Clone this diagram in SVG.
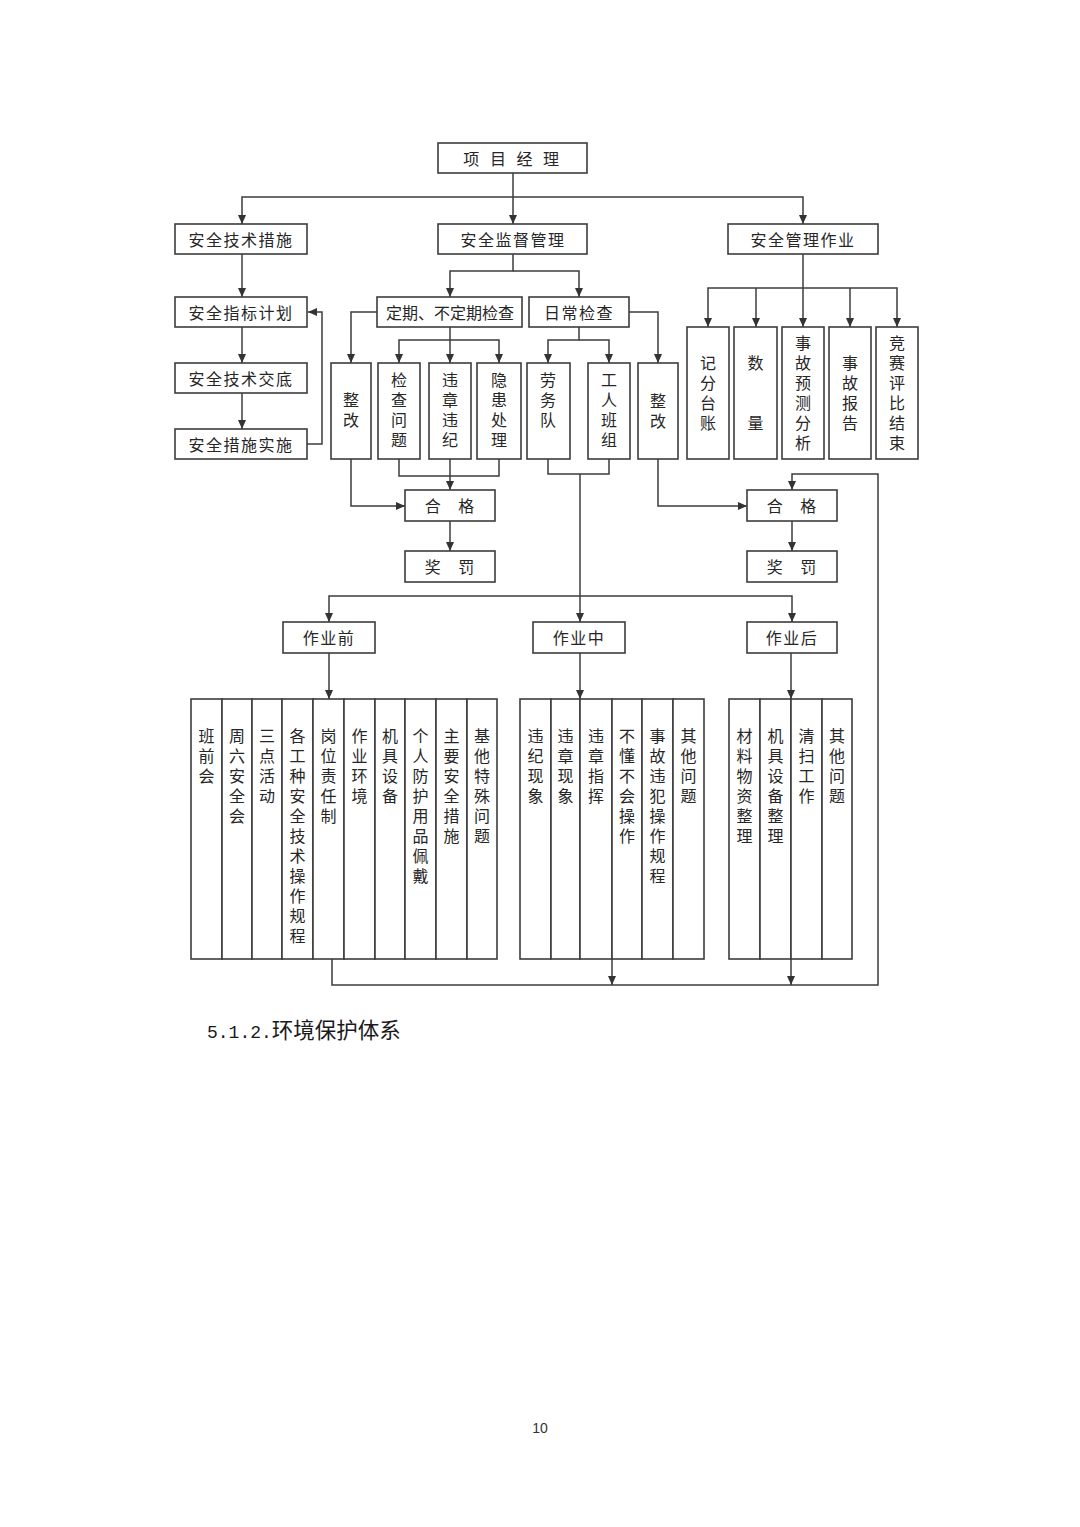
<svg xmlns="http://www.w3.org/2000/svg" width="1080" height="1527" viewBox="0 0 1080 1527">
<style>
.b{fill:#fff;stroke:#3c3c3c;stroke-width:1.6}
.t{font-family:"Noto Sans CJK SC",sans-serif;font-size:16px;fill:#262626;text-anchor:middle;dominant-baseline:central;letter-spacing:1.5px}
.v{font-family:"Noto Sans CJK SC",sans-serif;font-size:16px;fill:#262626;writing-mode:vertical-rl;letter-spacing:4px}
.c{fill:none;stroke:#3c3c3c;stroke-width:1.5}
.a{marker-end:url(#ah)}
</style>
<defs>
<marker id="ah" markerWidth="10" markerHeight="10" refX="9" refY="5" orient="auto" markerUnits="userSpaceOnUse"><path d="M0,1 L9,5 L0,9 z" fill="#333"/></marker>
</defs>
<rect width="1080" height="1527" fill="#fff"/>

<g id="connectors">
<path class="c a" d="M513,173 V224"/>
<path class="c a" d="M513,197 H242 V224"/>
<path class="c a" d="M513,197 H803 V224"/>
<path class="c a" d="M242,254 V297"/>
<path class="c a" d="M242,327 V363"/>
<path class="c a" d="M242,393 V429"/>
<path class="c a" d="M307,444 H322 V312 H308"/>
<path class="c a" d="M513,254 V271 H450 V297"/>
<path class="c a" d="M513,271 H579 V297"/>
<path class="c a" d="M377,312 H351 V363"/>
<path class="c a" d="M450,327 V363"/>
<path class="c a" d="M450,340 H399 V363"/>
<path class="c a" d="M450,340 H499 V363"/>
<path class="c a" d="M579,327 V340 H548 V363"/>
<path class="c a" d="M579,340 H609 V363"/>
<path class="c a" d="M629,312 H658 V363"/>
<path class="c a" d="M803,253 V327"/>
<path class="c a" d="M803,288 H708 V327"/>
<path class="c a" d="M756,288 V327"/>
<path class="c a" d="M850,288 V327"/>
<path class="c a" d="M803,288 H897 V327"/>
<path class="c a" d="M351,459 V506 H405"/>
<path class="c" d="M399,459 V476 H499 V459"/>
<path class="c a" d="M450,459 V490"/>
<path class="c a" d="M450,521 V551"/>
<path class="c" d="M548,459 V474 H609 V459"/>
<path class="c a" d="M580,474 V622"/>
<path class="c a" d="M580,596 H329 V622"/>
<path class="c a" d="M580,596 H792 V622"/>
<path class="c a" d="M658,459 V506 H747"/>
<path class="c a" d="M792,521 V551"/>
<path class="c a" d="M332,959 V985 H878 V474 H792 V490"/>
<path class="c a" d="M612,959 V985"/>
<path class="c a" d="M791,959 V985"/>
<path class="c a" d="M329,653 V699"/>
<path class="c a" d="M580,653 V699"/>
<path class="c a" d="M791,653 V699"/>
</g>

<g id="n-xiangmujingli"><rect class="b" x="438" y="143" width="149" height="30"/><text class="t" x="513" y="158" style="letter-spacing:3.5px">项 目 经 理</text></g>
<g id="n-anquanjishucuoshi"><rect class="b" x="175" y="224" width="132" height="30"/><text class="t" x="241" y="239">安全技术措施</text></g>
<g id="n-anquanjianduguanli"><rect class="b" x="438" y="224" width="149" height="30"/><text class="t" x="513" y="239">安全监督管理</text></g>
<g id="n-anquanguanlizuoye"><rect class="b" x="728" y="224" width="150" height="30"/><text class="t" x="803" y="239">安全管理作业</text></g>
<g id="n-anquanzhibiaojihua"><rect class="b" x="175" y="297" width="132" height="30"/><text class="t" x="241" y="312">安全指标计划</text></g>
<g id="n-anquanjishujiaodi"><rect class="b" x="175" y="363" width="132" height="30"/><text class="t" x="241" y="378">安全技术交底</text></g>
<g id="n-anquancuoshishishi"><rect class="b" x="175" y="429" width="132" height="30"/><text class="t" x="241" y="444">安全措施实施</text></g>
<g id="n-dingqijiancha"><rect class="b" x="377" y="297" width="145" height="30"/><text class="t" x="450" y="312" style="letter-spacing:0">定期、不定期检查</text></g>
<g id="n-richangjiancha"><rect class="b" x="529" y="297" width="100" height="30"/><text class="t" x="579" y="312">日常检查</text></g>

<g id="n-zhenggai1"><rect class="b" x="331" y="363" width="40" height="96"/><text class="v" x="351" y="392">整改</text></g>
<g id="n-jianchawenti"><rect class="b" x="378" y="363" width="42" height="96"/><text class="v" x="399" y="372">检查问题</text></g>
<g id="n-weizhangweiji"><rect class="b" x="429" y="363" width="42" height="96"/><text class="v" x="450" y="372">违章违纪</text></g>
<g id="n-yinhuanchuli"><rect class="b" x="477" y="363" width="44" height="96"/><text class="v" x="499" y="372">隐患处理</text></g>
<g id="n-laowudui"><rect class="b" x="527" y="363" width="43" height="96"/><text class="v" x="548" y="372">劳务队</text></g>
<g id="n-gongrenbanzu"><rect class="b" x="588" y="363" width="42" height="96"/><text class="v" x="609" y="372">工人班组</text></g>
<g id="n-zhenggai2"><rect class="b" x="638" y="363" width="40" height="96"/><text class="v" x="658" y="393">整改</text></g>
<g id="n-jifentaizhang"><rect class="b" x="687" y="327" width="42" height="132"/><text class="v" x="708" y="355">记分台账</text></g>
<g id="n-shuliang"><rect class="b" x="734" y="327" width="43" height="132"/><text class="v" x="755.5" y="355">数</text><text class="v" x="755.5" y="415">量</text></g>
<g id="n-shiguyuce"><rect class="b" x="782" y="327" width="42" height="132"/><text class="v" x="803" y="335">事故预测分析</text></g>
<g id="n-shigubaogao"><rect class="b" x="829" y="327" width="42" height="132"/><text class="v" x="850" y="355">事故报告</text></g>
<g id="n-jingsai"><rect class="b" x="876" y="327" width="42" height="132"/><text class="v" x="897" y="335">竞赛评比结束</text></g>

<g id="n-hege1"><rect class="b" x="405" y="490" width="90" height="31"/><text class="t" x="453" y="505" style="letter-spacing:7px">合 格</text></g>
<g id="n-jiangfa1"><rect class="b" x="405" y="551" width="90" height="31"/><text class="t" x="453" y="566" style="letter-spacing:7px">奖 罚</text></g>
<g id="n-hege2"><rect class="b" x="747" y="490" width="90" height="31"/><text class="t" x="795" y="505" style="letter-spacing:7px">合 格</text></g>
<g id="n-jiangfa2"><rect class="b" x="747" y="551" width="90" height="31"/><text class="t" x="795" y="566" style="letter-spacing:7px">奖 罚</text></g>
<g id="n-zuoyeqian"><rect class="b" x="283" y="622" width="92" height="31"/><text class="t" x="329" y="637">作业前</text></g>
<g id="n-zuoyezhong"><rect class="b" x="533" y="622" width="92" height="31"/><text class="t" x="579" y="637">作业中</text></g>
<g id="n-zuoyehou"><rect class="b" x="747" y="622" width="90" height="31"/><text class="t" x="792" y="637">作业后</text></g>

<g id="c-banqianhui"><rect class="b" x="191" y="699" width="31" height="260"/><text class="v" x="206.5" y="728">班前会</text></g>
<g id="c-zhouliu"><rect class="b" x="222" y="699" width="30" height="260"/><text class="v" x="237" y="728">周六安全会</text></g>
<g id="c-sandian"><rect class="b" x="252" y="699" width="30" height="260"/><text class="v" x="267" y="728">三点活动</text></g>
<g id="c-gegongzhong"><rect class="b" x="282" y="699" width="31" height="260"/><text class="v" x="297.5" y="728">各工种安全技术操作规程</text></g>
<g id="c-gangwei"><rect class="b" x="313" y="699" width="31" height="260"/><text class="v" x="328.5" y="728">岗位责任制</text></g>
<g id="c-zuoyehuanjing"><rect class="b" x="344" y="699" width="31" height="260"/><text class="v" x="359.5" y="728">作业环境</text></g>
<g id="c-jijushebei"><rect class="b" x="375" y="699" width="30" height="260"/><text class="v" x="390" y="728">机具设备</text></g>
<g id="c-gerenfanghu"><rect class="b" x="405" y="699" width="31" height="260"/><text class="v" x="420.5" y="728">个人防护用品佩戴</text></g>
<g id="c-zhuyaoanquan"><rect class="b" x="436" y="699" width="31" height="260"/><text class="v" x="451.5" y="728">主要安全措施</text></g>
<g id="c-jitateshu"><rect class="b" x="467" y="699" width="30" height="260"/><text class="v" x="482" y="728">基他特殊问题</text></g>

<g id="c-weijixianxiang"><rect class="b" x="520" y="699" width="31" height="260"/><text class="v" x="535.5" y="728">违纪现象</text></g>
<g id="c-weizhangxianxiang"><rect class="b" x="551" y="699" width="29" height="260"/><text class="v" x="565.5" y="728">违章现象</text></g>
<g id="c-weizhangzhihui"><rect class="b" x="580" y="699" width="32" height="260"/><text class="v" x="596" y="728">违章指挥</text></g>
<g id="c-budong"><rect class="b" x="612" y="699" width="30" height="260"/><text class="v" x="627" y="728">不懂不会操作</text></g>
<g id="c-shiguweifan"><rect class="b" x="642" y="699" width="31" height="260"/><text class="v" x="657.5" y="728">事故违犯操作规程</text></g>
<g id="c-qitawenti1"><rect class="b" x="673" y="699" width="31" height="260"/><text class="v" x="688.5" y="728">其他问题</text></g>

<g id="c-cailiao"><rect class="b" x="729" y="699" width="31" height="260"/><text class="v" x="744.5" y="728">材料物资整理</text></g>
<g id="c-jijuzhengli"><rect class="b" x="760" y="699" width="31" height="260"/><text class="v" x="775.5" y="728">机具设备整理</text></g>
<g id="c-qingsao"><rect class="b" x="791" y="699" width="31" height="260"/><text class="v" x="806.5" y="728">清扫工作</text></g>
<g id="c-qitawenti2"><rect class="b" x="822" y="699" width="30" height="260"/><text class="v" x="837" y="728">其他问题</text></g>

<text x="207" y="1038" style="fill:#1a1a1a"><tspan style="font-family:'Liberation Mono',monospace;font-size:18px">5.1.2.</tspan><tspan style="font-family:'Noto Sans CJK SC',sans-serif;font-size:21.5px">环境保护体系</tspan></text>
<text x="540" y="1433" style="font-family:'Liberation Sans',sans-serif;font-size:14px;fill:#333;text-anchor:middle">10</text>
</svg>
